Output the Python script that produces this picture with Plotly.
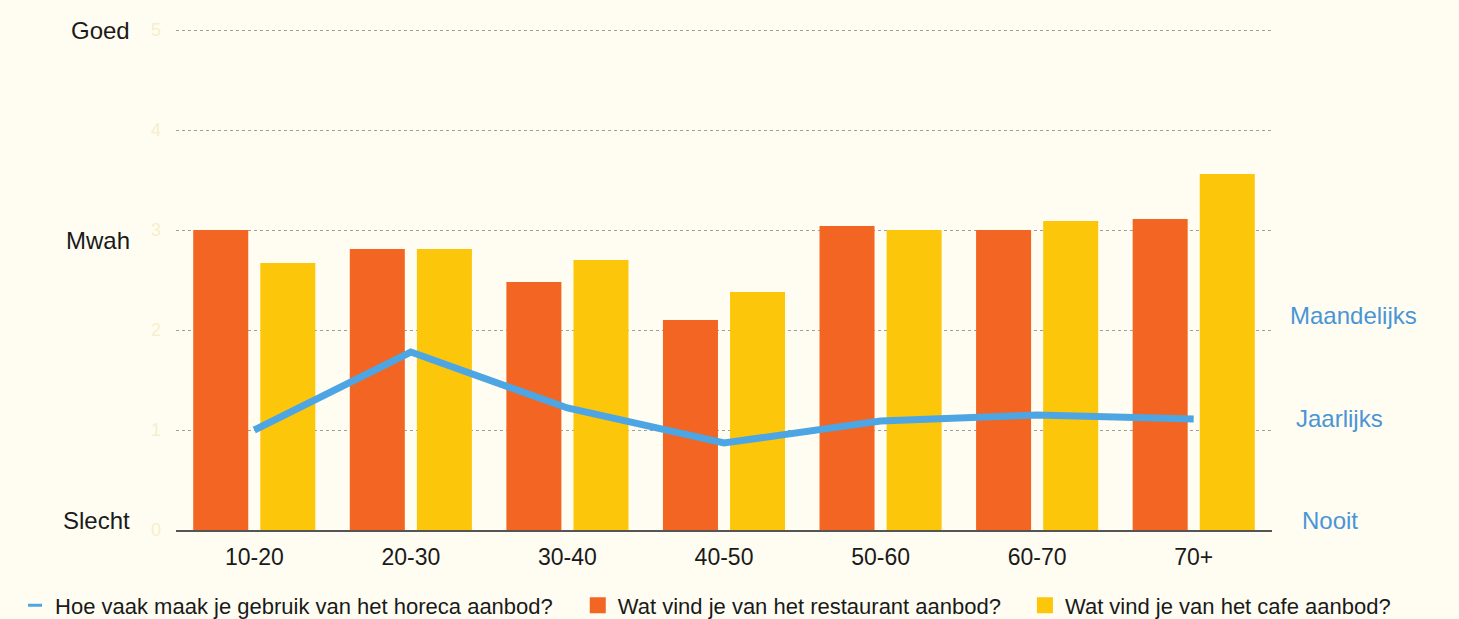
import plotly.graph_objects as go

# Leeftijdsgroepen
categories = ["10-20", "20-30", "30-40", "40-50", "50-60", "60-70", "70+"]

# Gemiddelde waardering (0 = Slecht, 5 = Goed)
restaurant = [3.00, 2.81, 2.48, 2.10, 3.04, 3.00, 3.11]
cafe = [2.67, 2.81, 2.70, 2.38, 3.00, 3.09, 3.56]

# Gebruiksfrequentie horeca
gebruik = [1.00, 1.78, 1.22, 0.87, 1.09, 1.15, 1.11]

# Labels
score_ticks = [0, 1, 2, 3, 4, 5]
score_words = ["Goed", "Mwah", "Slecht"]
score_word_values = [5, 2.9, 0.1]
freq_words = ["Maandelijks", "Jaarlijks", "Nooit"]
freq_word_values = [2.15, 1.12, 0.1]

series_names = [
    "Hoe vaak maak je gebruik van het horeca aanbod?",
    "Wat vind je van het restaurant aanbod?",
    "Wat vind je van het cafe aanbod?",
]

BG = "#FFFDF2"
ORANGE = "#F26522"
YELLOW = "#FCC60A"
BLUE = "#4DA6E3"
LABEL_BLUE = "#4A95D6"
FONT = "Liberation Sans, Arial, sans-serif"

fig = go.Figure()

# Balken
fig.add_trace(go.Bar(
    x=categories, y=restaurant, name=series_names[1],
    marker=dict(color=ORANGE, line=dict(width=0)),
    legendgroup="rest", showlegend=False,
))
fig.add_trace(go.Bar(
    x=categories, y=cafe, name=series_names[2],
    marker=dict(color=YELLOW, line=dict(width=0)),
    legendgroup="cafe", showlegend=False,
))

# Lijn op de frequentie-as
fig.add_trace(go.Scatter(
    x=categories, y=gebruik, name=series_names[0], yaxis="y2",
    mode="lines", line=dict(color=BLUE, width=7),
    legendgroup="freq", showlegend=False,
))

# Legenda-symbolen: kort streepje en vierkantjes, elk in een eigen legenda
fig.add_trace(go.Scatter(
    x=[None], y=[None], name=series_names[0], mode="markers",
    marker=dict(symbol="line-ew", size=10, color=BLUE,
                line=dict(color=BLUE, width=3)),
    legendgroup="freq", legend="legend",
))
fig.add_trace(go.Scatter(
    x=[None], y=[None], name=series_names[1], mode="markers",
    marker=dict(symbol="square", size=18, color=ORANGE),
    legendgroup="rest", legend="legend2",
))
fig.add_trace(go.Scatter(
    x=[None], y=[None], name=series_names[2], mode="markers",
    marker=dict(symbol="square", size=18, color=YELLOW),
    legendgroup="cafe", legend="legend3",
))

# Verbale schaal links
for txt, val in zip(score_words, score_word_values):
    fig.add_annotation(
        x=0, xref="paper", xanchor="right", y=val, yref="y",
        text=txt, showarrow=False, xshift=-44,
        font=dict(family=FONT, size=24, color="#1a1a1a"),
    )

# Frequentieschaal rechts
for txt, val, shift in zip(freq_words, freq_word_values, [16, 22, 28]):
    fig.add_annotation(
        x=1, xref="paper", xanchor="left", y=val, yref="y2",
        text=txt, showarrow=False, xshift=shift,
        font=dict(family=FONT, size=24, color=LABEL_BLUE),
    )

legend_style = dict(
    orientation="h", xref="container", yref="container",
    y=0.022, xanchor="left", yanchor="middle",
    font=dict(size=22, color="#1a1a1a"),
    bgcolor="rgba(0,0,0,0)", itemwidth=30,
)

fig.update_layout(
    width=1459, height=619,
    paper_bgcolor=BG, plot_bgcolor=BG,
    margin=dict(l=176, r=187, t=25, b=89, autoexpand=False),
    barmode="group", bargap=0.143, bargroupgap=0.18,
    font=dict(family=FONT),
    xaxis=dict(
        showgrid=False, showline=True, linecolor="#555555", linewidth=1.5,
        ticks="", tickfont=dict(size=23, color="#1a1a1a"),
        ticklabelstandoff=6,
    ),
    yaxis=dict(
        range=[0, 5.05], tickvals=score_ticks,
        tickfont=dict(size=18, color="#F6EFCB"),
        showgrid=True, gridcolor="#a0a0a0", griddash="dot", gridwidth=1,
        zeroline=False, showline=False, ticks="", ticklabelstandoff=14,
    ),
    yaxis2=dict(
        range=[0, 5.05], overlaying="y", side="right",
        showticklabels=False, showgrid=False, zeroline=False,
        showline=False, ticks="",
    ),
    legend=dict(legend_style, x=0.0103),
    legend2=dict(legend_style, x=0.396),
    legend3=dict(legend_style, x=0.7025),
    showlegend=True,
)

fig.write_html("out.html")
